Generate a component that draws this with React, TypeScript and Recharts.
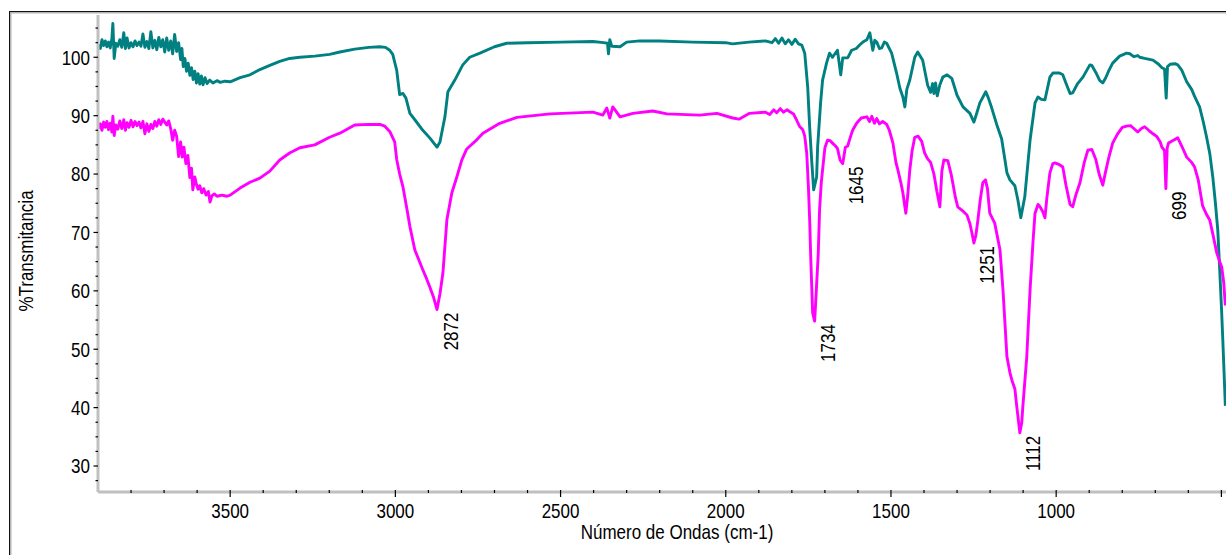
import { LineChart, Line, XAxis, YAxis, ReferenceDot } from 'recharts';

// FTIR spectra: [wavenumber cm-1, %T]
const tealSpectrum: [number, number][] = [
  [3898, 102.2], [3893, 101.5], [3888, 103.0], [3883, 102.0], [3878, 102.8], [3873, 101.8],
  [3868, 102.6], [3863, 101.6], [3858, 103.2], [3855, 105.8], [3851, 99.8], [3846, 102.4],
  [3840, 101.9], [3834, 103.0], [3828, 101.7], [3822, 104.2], [3817, 101.5], [3812, 103.3],
  [3806, 101.6], [3800, 102.5], [3794, 101.8], [3788, 102.8], [3782, 102.0], [3776, 102.6],
  [3770, 101.9], [3764, 104.0], [3758, 101.7], [3752, 102.7], [3746, 101.5], [3740, 104.4],
  [3734, 101.6], [3728, 102.9], [3722, 101.3], [3716, 103.4], [3710, 101.8], [3704, 103.0],
  [3698, 100.9], [3692, 103.3], [3686, 101.2], [3680, 102.8], [3674, 100.6], [3668, 103.9],
  [3662, 101.0], [3656, 102.5], [3650, 99.6], [3646, 101.5], [3642, 98.4], [3637, 99.8],
  [3632, 97.6], [3627, 99.0], [3622, 96.9], [3617, 98.2], [3612, 96.2], [3607, 97.6],
  [3602, 95.6], [3597, 97.2], [3592, 95.4], [3587, 96.8], [3582, 95.3], [3576, 96.5],
  [3570, 95.5], [3562, 96.1], [3552, 95.6], [3540, 96.0], [3530, 95.7], [3516, 95.9],
  [3500, 95.8], [3470, 96.5], [3440, 97.0], [3410, 97.9], [3380, 98.6], [3350, 99.3],
  [3320, 99.8], [3289, 100.0], [3244, 100.2], [3199, 100.5], [3168, 100.9], [3123, 101.4],
  [3080, 101.7], [3047, 101.8], [3030, 101.7], [3017, 101.2], [3008, 100.5], [2996, 97.8],
  [2987, 93.6], [2977, 93.8], [2968, 93.0], [2956, 90.4], [2941, 89.3], [2917, 87.5],
  [2896, 86.2], [2874, 84.6], [2865, 85.5], [2850, 89.8], [2841, 94.1], [2820, 96.1],
  [2796, 98.7], [2775, 100.0], [2744, 100.7], [2700, 101.8], [2663, 102.4], [2600, 102.5],
  [2500, 102.6], [2402, 102.7], [2370, 102.5], [2358, 102.4], [2355, 100.6], [2351, 103.0],
  [2345, 101.9], [2320, 101.8], [2300, 102.6], [2260, 102.8], [2200, 102.8], [2100, 102.6],
  [2000, 102.5], [1980, 102.3], [1930, 102.6], [1880, 102.8], [1860, 102.5], [1850, 103.2],
  [1840, 102.4], [1830, 103.3], [1820, 102.3], [1810, 103.0], [1800, 102.2], [1790, 103.1],
  [1780, 102.3], [1770, 102.1], [1761, 100.7], [1752, 94.9], [1746, 88.0], [1740, 82.4],
  [1734, 77.3], [1725, 79.5], [1722, 84.6], [1713, 92.2], [1707, 96.1], [1695, 99.0],
  [1686, 100.7], [1677, 100.0], [1662, 101.2], [1652, 97.0], [1646, 99.9], [1631, 99.9],
  [1619, 101.2], [1605, 101.5], [1595, 102.1], [1585, 102.6], [1573, 103.0], [1564, 104.2],
  [1555, 101.2], [1549, 102.9], [1543, 102.6], [1535, 101.5], [1528, 101.6], [1520, 102.6],
  [1513, 102.4], [1498, 100.7], [1483, 97.3], [1473, 94.7], [1464, 93.2], [1458, 91.5],
  [1452, 94.5], [1443, 96.1], [1428, 100.0], [1419, 100.9], [1404, 99.5], [1389, 95.2],
  [1380, 94.0], [1374, 95.5], [1370, 93.8], [1365, 95.6], [1360, 93.4], [1352, 95.3],
  [1343, 96.6], [1330, 97.0], [1316, 96.4], [1300, 93.5], [1282, 91.5], [1261, 90.4],
  [1249, 88.9], [1240, 90.5], [1231, 92.2], [1213, 94.1], [1205, 93.0], [1195, 91.3],
  [1180, 88.5], [1165, 86.0], [1155, 82.4], [1149, 80.2], [1140, 79.0], [1125, 78.0],
  [1116, 75.6], [1107, 72.5], [1095, 76.1], [1079, 85.8], [1064, 92.2], [1055, 93.2],
  [1045, 92.8], [1034, 92.7], [1019, 96.6], [1010, 97.3], [990, 97.3], [980, 97.0],
  [970, 95.5], [958, 93.8], [950, 93.9], [935, 95.5], [919, 96.6], [898, 98.7],
  [892, 98.6], [880, 97.4], [868, 96.0], [859, 95.6], [850, 96.5], [840, 97.8],
  [829, 99.0], [808, 100.2], [787, 100.7], [777, 100.6], [765, 100.1], [753, 100.3],
  [747, 100.0], [732, 99.8], [707, 99.5], [690, 98.8], [680, 98.2], [672, 98.0],
  [667, 93.0], [663, 98.4], [655, 98.8], [640, 98.9], [632, 98.7], [620, 97.8],
  [605, 95.8], [590, 94.5], [581, 93.3], [566, 91.5], [555, 89.0], [545, 86.4],
  [535, 83.5], [526, 79.5], [518, 75.0], [511, 70.5], [505, 63.6], [500, 57.5],
  [496, 52.1], [488, 40.3],
];

const magentaSpectrum: [number, number][] = [
  [3898, 87.8], [3893, 88.6], [3888, 87.5], [3883, 88.9], [3878, 88.0], [3873, 89.0],
  [3868, 87.6], [3863, 88.7], [3858, 87.2], [3855, 89.9], [3851, 86.6], [3846, 88.4],
  [3840, 87.7], [3834, 89.1], [3828, 87.8], [3822, 89.3], [3817, 87.5], [3812, 88.8],
  [3806, 88.0], [3800, 89.2], [3794, 88.1], [3788, 89.0], [3782, 88.3], [3776, 88.9],
  [3770, 87.9], [3764, 89.0], [3758, 86.9], [3752, 88.6], [3746, 87.3], [3740, 88.5],
  [3734, 87.8], [3728, 89.0], [3722, 88.2], [3716, 89.3], [3710, 88.5], [3704, 89.4],
  [3698, 88.9], [3692, 88.4], [3686, 89.1], [3680, 87.8], [3674, 85.8], [3668, 87.5],
  [3662, 86.5], [3656, 83.0], [3650, 85.5], [3645, 82.9], [3640, 84.6], [3634, 81.8],
  [3628, 83.2], [3622, 79.4], [3617, 81.0], [3613, 77.3], [3607, 79.5], [3602, 78.2],
  [3597, 77.4], [3592, 78.0], [3586, 76.8], [3580, 77.5], [3573, 76.4], [3566, 77.0],
  [3561, 75.2], [3555, 76.3], [3548, 76.6], [3540, 76.2], [3525, 76.4], [3510, 76.2],
  [3500, 76.4], [3470, 77.6], [3440, 78.6], [3410, 79.3], [3380, 80.5], [3350, 82.4],
  [3320, 83.6], [3289, 84.5], [3244, 85.0], [3199, 86.3], [3168, 87.0], [3123, 88.4],
  [3080, 88.5], [3047, 88.5], [3032, 88.2], [3017, 87.3], [3002, 85.5], [2996, 82.5],
  [2987, 80.0], [2977, 77.8], [2965, 74.0], [2956, 71.0], [2941, 67.0], [2917, 63.6],
  [2905, 62.0], [2896, 60.7], [2885, 59.0], [2874, 56.8], [2865, 59.5], [2856, 63.1],
  [2844, 72.2], [2829, 76.8], [2814, 79.5], [2799, 82.4], [2784, 84.3], [2753, 85.9],
  [2735, 87.0], [2684, 88.7], [2632, 89.7], [2532, 90.3], [2402, 90.6], [2372, 90.1],
  [2360, 91.3], [2351, 89.6], [2342, 91.5], [2320, 89.8], [2281, 90.4], [2221, 90.8],
  [2178, 90.3], [2079, 90.1], [2027, 90.4], [1979, 89.6], [1960, 89.4], [1928, 90.4],
  [1880, 90.6], [1867, 90.2], [1855, 91.0], [1846, 90.5], [1835, 91.2], [1825, 90.6],
  [1815, 91.0], [1807, 90.7], [1795, 90.3], [1786, 89.3], [1777, 88.2], [1767, 87.6],
  [1761, 86.5], [1755, 83.6], [1750, 78.0], [1746, 72.1], [1743, 66.0], [1740, 61.0],
  [1737, 56.2], [1731, 54.8], [1726, 60.0], [1720, 66.5], [1716, 74.0], [1711, 78.5],
  [1707, 80.7], [1700, 84.5], [1692, 85.8], [1684, 85.7], [1677, 85.3], [1668, 84.8],
  [1662, 84.4], [1654, 82.4], [1646, 81.8], [1638, 84.6], [1631, 84.8], [1622, 86.5],
  [1616, 87.5], [1604, 88.7], [1590, 89.6], [1573, 89.8], [1565, 89.0], [1558, 89.9],
  [1550, 88.7], [1543, 89.5], [1535, 88.6], [1525, 89.0], [1513, 88.5], [1505, 87.5],
  [1494, 85.3], [1485, 82.0], [1479, 80.7], [1470, 78.5], [1464, 76.8], [1455, 73.3],
  [1449, 76.5], [1443, 80.7], [1436, 84.0], [1428, 86.3], [1418, 86.5], [1407, 85.6],
  [1398, 83.6], [1389, 82.6], [1380, 82.0], [1370, 80.0], [1361, 77.0], [1352, 74.4],
  [1346, 80.5], [1340, 82.4], [1328, 82.3], [1318, 80.0], [1313, 78.5], [1305, 76.0],
  [1298, 74.4], [1285, 73.8], [1270, 73.0], [1261, 71.5], [1255, 69.9], [1249, 68.2],
  [1243, 69.5], [1237, 72.1], [1230, 75.5], [1222, 78.5], [1214, 79.0], [1208, 77.5],
  [1201, 73.3], [1186, 71.6], [1170, 67.0], [1161, 60.2], [1149, 48.7], [1140, 46.0],
  [1134, 44.7], [1125, 43.2], [1119, 40.1], [1110, 35.7], [1104, 37.5], [1101, 40.1],
  [1089, 48.7], [1079, 60.2], [1070, 68.5], [1064, 73.3], [1055, 74.8], [1049, 74.4],
  [1040, 73.5], [1034, 72.5], [1028, 76.0], [1019, 80.2], [1010, 81.8], [1004, 81.9],
  [990, 81.6], [980, 81.2], [970, 78.0], [958, 74.8], [950, 74.4], [940, 76.5],
  [928, 78.5], [915, 82.0], [904, 84.1], [892, 84.2], [880, 82.5], [870, 80.0],
  [859, 78.1], [850, 80.5], [840, 83.0], [829, 85.3], [815, 86.8], [800, 88.0],
  [787, 88.2], [775, 88.3], [765, 87.8], [753, 87.2], [742, 87.8], [732, 88.1],
  [720, 87.5], [707, 86.9], [695, 86.4], [685, 85.5], [680, 84.6], [672, 84.0],
  [668, 77.5], [664, 84.5], [660, 85.3], [645, 85.8], [632, 86.2], [620, 84.8],
  [605, 82.9], [590, 82.0], [581, 81.2], [570, 79.0], [557, 74.6], [546, 73.2],
  [535, 72.1], [525, 69.5], [514, 66.5], [505, 65.0], [499, 64.1], [493, 61.5],
  [488, 57.5],
];

// annotated minima of the magenta trace
const peakLabels = ['2872', '1734', '1645', '1251', '1112', '699'];
const peakWavenumbers = [2874, 1731, 1646, 1249, 1110, 668];
const peakTransmittance = [56.8, 54.8, 81.8, 68.2, 35.7, 77.5];

const xTicks = [
  3800, 3700, 3600, 3500, 3400, 3300, 3200, 3100, 3000, 2900, 2800, 2700, 2600, 2500, 2400,
  2300, 2200, 2100, 2000, 1900, 1800, 1700, 1600, 1500, 1400, 1300, 1200, 1100, 1000, 900,
  800, 700, 600, 500,
];
const xMajorTicks = [3500, 3000, 2500, 2000, 1500, 1000, 500];
const xLabelTicks = [3500, 3000, 2500, 2000, 1500, 1000];

const yTicks = [
  27.5, 30, 32.5, 35, 37.5, 40, 42.5, 45, 47.5, 50, 52.5, 55, 57.5, 60, 62.5, 65, 67.5, 70,
  72.5, 75, 77.5, 80, 82.5, 85, 87.5, 90, 92.5, 95, 97.5, 100, 102.5, 105,
];
const yLabelTicks = [30, 40, 50, 60, 70, 80, 90, 100];

const FONT = "'Liberation Sans', Arial, sans-serif";
const TEXT = '#000';
const TEAL = '#008080';
const MAGENTA = '#ff00ff';
const AXIS_GREY = '#c0c0c0';

const toPoints = (rows: [number, number][]) => rows.map(([wn, t]) => ({ wn, t }));

function XTick(props: any) {
  const { x, y, payload } = props;
  const v = payload.value;
  const major = xMajorTicks.includes(v);
  return (
    <g>
      <line x1={x} x2={x} y1={y - 2} y2={y + (major ? 5 : 1)} stroke="#000" strokeWidth={1.2} />
      {xLabelTicks.includes(v) ? (
        <text
          transform={`translate(${x},${y + 26}) scale(1,1.2)`}
          textAnchor="middle"
          fontSize={17}
          fontFamily={FONT}
          fill={TEXT}
        >
          {v}
        </text>
      ) : null}
    </g>
  );
}

function YTick(props: any) {
  const { x, y, payload } = props;
  const v = payload.value;
  const major = yLabelTicks.includes(v);
  return (
    <g>
      <line x1={x - (major ? 4.5 : 2.5)} x2={x} y1={y} y2={y} stroke="#000" strokeWidth={1.2} />
      {major ? (
        <text
          transform={`translate(${x - 8},${y + 7.3}) scale(1,1.2)`}
          textAnchor="end"
          fontSize={17}
          fontFamily={FONT}
          fill={TEXT}
        >
          {v}
        </text>
      ) : null}
    </g>
  );
}

function peakLabel(text: string) {
  return (p: any) => (
    <text
      transform={`translate(${p.cx + 13.5},${p.cy + 3}) rotate(-90) scale(1,1.2)`}
      textAnchor="end"
      dominantBaseline="central"
      fontSize={17}
      fontFamily={FONT}
      fill={TEXT}
    >
      {text}
    </text>
  );
}

export default function App() {
  return (
    <div
      style={{
        position: 'fixed',
        left: 0,
        top: 0,
        width: 1226,
        height: 555,
        overflow: 'hidden',
        background: '#fff',
      }}
    >
      <div
        style={{
          position: 'absolute',
          left: 9,
          top: 11,
          width: 1400,
          height: 800,
          borderTop: '1.5px solid #111',
          borderLeft: '1.5px solid #111',
          boxShadow: 'inset 1.5px 1.5px 0 #b4b4b4',
        }}
      />
      <div style={{ position: 'absolute', left: 0, top: 0 }}>
        <LineChart width={1226} height={555} margin={{ top: 15, right: 0, bottom: 0, left: 0 }}>
          <XAxis
            dataKey="wn"
            type="number"
            domain={[486, 3900]}
            reversed
            allowDataOverflow
            ticks={xTicks}
            interval={0}
            height={63}
            tickSize={0}
            tickMargin={0}
            tickLine={false}
            axisLine={{ stroke: AXIS_GREY, strokeWidth: 3 }}
            tick={<XTick />}
          />
          <YAxis
            type="number"
            domain={[25.55, 107.24]}
            allowDataOverflow
            ticks={yTicks}
            interval={0}
            width={98}
            tickSize={0}
            tickMargin={0}
            tickLine={false}
            axisLine={{ stroke: AXIS_GREY, strokeWidth: 3 }}
            tick={<YTick />}
          />
          <Line
            data={toPoints(tealSpectrum)}
            dataKey="t"
            type="linear"
            stroke={TEAL}
            strokeWidth={2.9}
            strokeLinejoin="round"
            dot={false}
            activeDot={false}
            isAnimationActive={false}
          />
          <Line
            data={toPoints(magentaSpectrum)}
            dataKey="t"
            type="linear"
            stroke={MAGENTA}
            strokeWidth={2.9}
            strokeLinejoin="round"
            dot={false}
            activeDot={false}
            isAnimationActive={false}
          />
          {peakLabels.map((label, i) => (
            <ReferenceDot
              key={label}
              x={peakWavenumbers[i]}
              y={peakTransmittance[i]}
              r={0}
              shape={peakLabel(label)}
            />
          ))}
        </LineChart>
      </div>
      <svg
        width={1226}
        height={555}
        style={{ position: 'absolute', left: 0, top: 0, pointerEvents: 'none' }}
      >
        <text
          transform="translate(26,251) rotate(-90) scale(1,1.2)"
          textAnchor="middle"
          dominantBaseline="central"
          fontSize={17}
          fontFamily={FONT}
          fill={TEXT}
        >
          %Transmitancia
        </text>
        <text
          transform="translate(677,539) scale(1,1.2)"
          textAnchor="middle"
          fontSize={17}
          fontFamily={FONT}
          fill={TEXT}
        >
          Número de Ondas (cm-1)
        </text>
      </svg>
    </div>
  );
}
